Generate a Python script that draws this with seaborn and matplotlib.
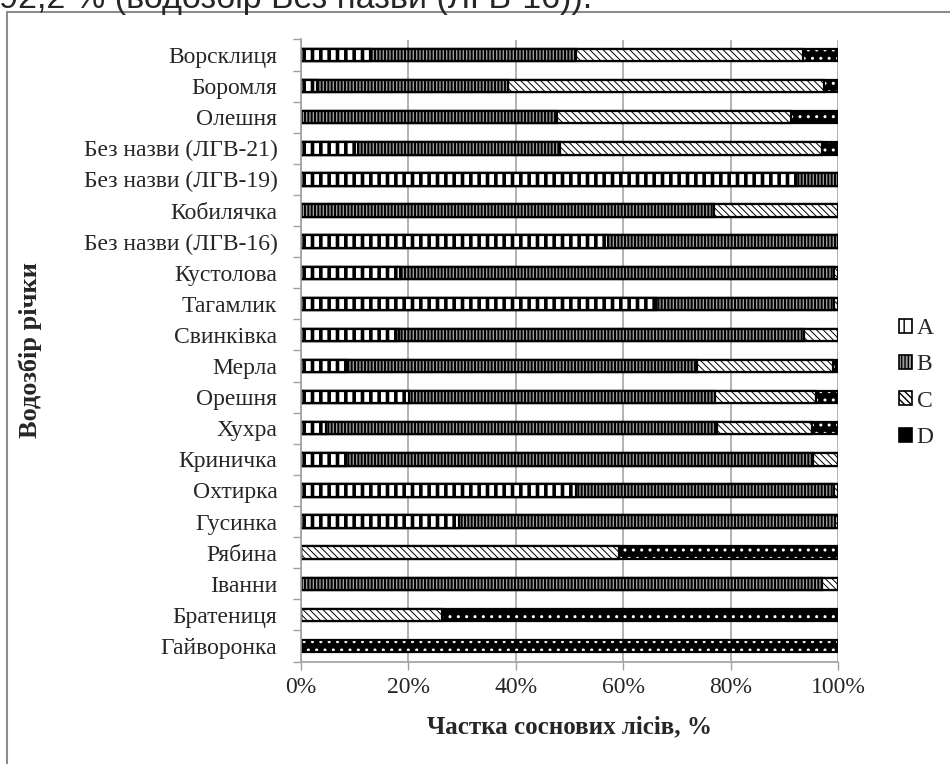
import matplotlib
matplotlib.use("Agg")
import matplotlib.pyplot as plt
from matplotlib.patches import Patch
from matplotlib.lines import Line2D
import numpy as np
import pandas as pd
import seaborn as sns

# Водозбори річок (зверху вниз) і частки сосняків груп A–D, %
basins = ["Ворсклиця", "Боромля", "Олешня", "Без назви (ЛГВ-21)", "Без назви (ЛГВ-19)",
          "Кобилячка", "Без назви (ЛГВ-16)", "Кустолова", "Тагамлик", "Свинківка",
          "Мерла", "Орешня", "Хухра", "Криничка", "Охтирка", "Гусинка", "Рябина",
          "Іванни", "Братениця", "Гайворонка"]
share_a = [12.8, 2.9, 0, 10.6, 92.2, 0, 57.2, 18.4, 66.1, 18.3,
           8.5, 20.2, 4.7, 8.4, 51.2, 29.5, 0, 0, 0, 0]
share_b = [38.4, 35.7, 47.6, 37.6, 7.8, 77.0, 42.8, 80.9, 33.1, 75.4,
           65.2, 56.9, 72.7, 87.0, 48.1, 69.9, 0, 97.0, 0, 0]
share_c = [42.2, 58.8, 43.6, 48.9, 0, 23.0, 0, 0.7, 0.8, 6.3,
           25.4, 18.8, 17.8, 4.6, 0.7, 0.6, 59.2, 3.0, 26.3, 0]
share_d = [6.6, 2.6, 8.8, 2.9, 0, 0, 0, 0, 0, 0,
           0.9, 4.1, 4.8, 0, 0, 0, 40.8, 0, 73.7, 100]
groups = ["A", "B", "C", "D"]
x_ticks = [0, 20, 40, 60, 80, 100]
x_ticklabels = ["0%", "20%", "40%", "60%", "80%", "100%"]

df = pd.DataFrame({"basin": basins, "A": share_a, "B": share_b, "C": share_c, "D": share_d})
cum = df[groups].cumsum(axis=1)

sns.set_theme(style="white")
plt.rcParams["font.family"] = ["Liberation Serif", "DejaVu Serif"]
plt.rcParams["hatch.color"] = "black"

fig = plt.figure(figsize=(9.5, 7.64), dpi=100)
W, H = 950, 764
ax = fig.add_axes([301 / W, 1 - 661.5 / H, (838 - 301) / W, (661.5 - 39.5) / H])

# fill style of each group: face, hatch, hatch colour, hatch width
styles = {
    "A": dict(face="white", hatch="||", hcolor="black", hlw=2.6),
    "B": dict(face="#9a9a9a", hatch="|||||", hcolor="#111111", hlw=1.4),
    "C": dict(face="white", hatch="\\\\\\\\\\", hcolor="#666666", hlw=0.7),
    "D": dict(face="black", hatch="..", hcolor="white", hlw=1.0),
}
BAR_H = 0.4


def layer(values, face, edge, hatch, hlw, lw, hcolor=None):
    before = len(ax.patches)
    with plt.rc_context({"hatch.linewidth": hlw, "hatch.color": hcolor or edge}):
        sns.barplot(x=values, y=df["basin"], orient="h", order=basins,
                    color="white", width=BAR_H, ax=ax, errorbar=None)
        for p in ax.patches[before:]:
            p.set_facecolor(face)
            p.set_edgecolor(edge)
            p.set_hatch(hatch)
            p.set_linewidth(lw)
            if hasattr(p, "set_hatch_linewidth"):
                p.set_hatch_linewidth(hlw)
            if hcolor is not None and hasattr(p, "set_hatchcolor"):
                p.set_hatchcolor(hcolor)


# stacked bars: cumulative layers drawn from the full length down to group A
for g in ["D", "C", "B", "A"]:
    s = styles[g]
    vals = cum[g].values
    if g == "D":
        layer(vals, s["face"], "white", s["hatch"], s["hlw"], 0, hcolor="white")
        layer(vals, "none", "black", None, 1.0, 1.6)
    else:
        layer(vals, s["face"], "black", s["hatch"], s["hlw"], 1.6, hcolor=s["hcolor"])

TICK_FS = 17
ax.set_xlim(0, 100)
ax.set_ylim(len(basins) - 0.5, -0.5)
ax.set_xticks(x_ticks)
ax.set_xticklabels(x_ticklabels, fontsize=TICK_FS)
ax.set_yticks(range(len(basins)))
ax.set_yticklabels(basins, fontsize=TICK_FS)
ax.set_yticks(np.arange(-0.5, len(basins), 1.0), minor=True)
ax.tick_params(axis="y", which="major", length=0, pad=17)
ax.tick_params(axis="y", which="minor", length=6, width=1, color="#a0a0a0", left=True)
ax.tick_params(axis="x", which="major", length=6, width=1, color="#a0a0a0", bottom=True, pad=5)
ax.xaxis.grid(True, color="#a6a6a6", linewidth=1.2)
ax.yaxis.grid(False)
ax.set_axisbelow(True)
for side in ["top", "right"]:
    ax.spines[side].set_visible(False)
for side in ["left", "bottom"]:
    ax.spines[side].set_color("#a0a0a0")
    ax.spines[side].set_linewidth(1.2)

ax.set_xlabel("Частка соснових лісів, %", fontsize=18, fontweight="bold")
ax.set_ylabel("Водозбір річки", fontsize=19, fontweight="bold")
ax.xaxis.set_label_coords(0.5, (661.5 - 727) / 622, transform=ax.transAxes)
ax.xaxis.label.set_va("center")
ax.yaxis.set_label_coords((30 - 301) / 537, 0.5, transform=ax.transAxes)
ax.yaxis.label.set_va("center")

handles = []
for g in groups:
    s = styles[g]
    handles.append(Patch(facecolor=s["face"], edgecolor="black", hatch=s["hatch"] if g != "D" else None,
                         linewidth=1.2, label=g))
fig.legend(handles=handles, loc="center left", bbox_to_anchor=(887 / W, 1 - 383 / H),
           frameon=False, fontsize=17, handlelength=0.55, handleheight=0.55,
           handletextpad=0.2, labelspacing=0.65, borderpad=0)

# surrounding frame and caption line above it
frame_color = "#8c8c8c"
fig.add_artist(Line2D([7 / W, 7 / W], [0, 1 - 12 / H], transform=fig.transFigure,
                      color=frame_color, linewidth=1.5))
fig.add_artist(Line2D([7 / W, 1], [1 - 12 / H, 1 - 12 / H], transform=fig.transFigure,
                      color=frame_color, linewidth=1.5))
fig.text(592 / W, 1 - 8 / H, "92,2 % (водозбір Без назви (ЛГВ-16)).",
         ha="right", va="baseline", fontsize=24.5, family=["Liberation Sans", "DejaVu Sans"])

fig.savefig("out.png", dpi=100)
